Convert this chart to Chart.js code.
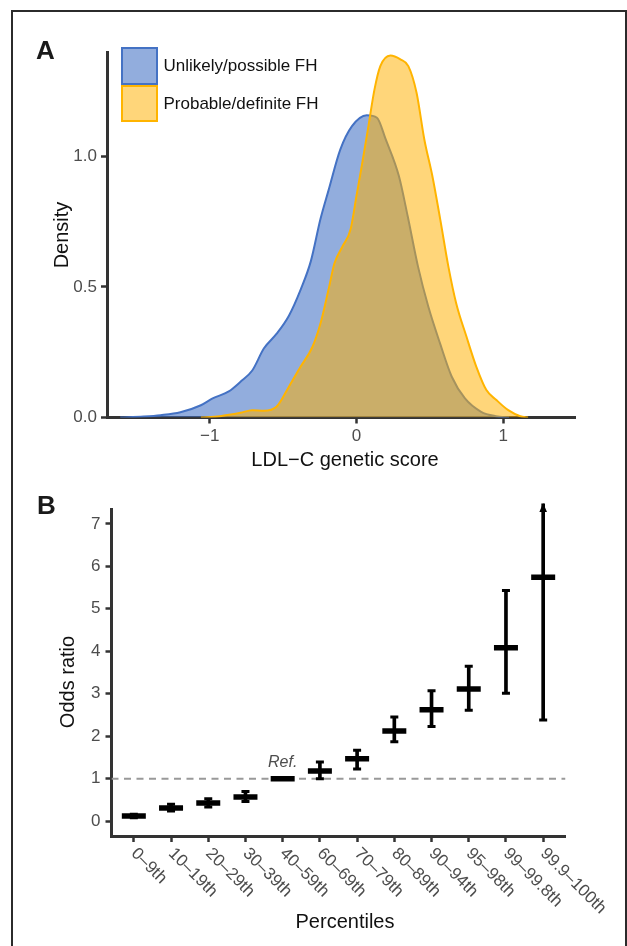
<!DOCTYPE html>
<html><head><meta charset="utf-8">
<script src="https://cdn.jsdelivr.net/npm/chart.js@4.4.1/dist/chart.umd.min.js"></script>
<style>
html,body{margin:0;padding:0;background:#fff;width:627px;height:946px;overflow:hidden;font-family:"Liberation Sans",Arial,sans-serif;}
#frame{position:absolute;left:11px;top:10px;width:616px;height:1000px;box-sizing:border-box;border:2px solid #2b2b2b;border-bottom:none;}
.abs{position:absolute;white-space:nowrap;}
canvas{position:absolute;left:0;}
.panel{font-weight:bold;font-size:26px;line-height:26px;color:#1a1a1a;}
.title{font-size:20px;line-height:24px;color:#111;transform:translate(-50%,-50%);}
.vt{transform:translate(-50%,-50%) rotate(-90deg);}
.row{display:flex;align-items:center;height:37.5px;}
.key{width:37px;height:37.5px;box-sizing:border-box;}
.lt{font-size:17px;line-height:37px;margin-left:6px;color:#111;}
</style></head>
<body>
<div id="frame"></div>
<canvas id="cA" width="627" height="480" style="top:0"></canvas>
<canvas id="cB" width="627" height="466" style="top:480px"></canvas>
<div class="abs panel" style="left:36px;top:37px">A</div>
<div class="abs panel" style="left:37px;top:492px">B</div>
<div class="abs" style="left:120.5px;top:47px">
  <div class="row"><div class="key" style="background:rgba(68,114,196,0.58);border:2px solid #4472C4"></div><div class="lt">Unlikely/possible FH</div></div>
  <div class="row"><div class="key" style="background:rgba(255,176,0,0.52);border:2px solid #FFB400"></div><div class="lt">Probable/definite FH</div></div>
</div>
<div class="abs title vt" style="left:61px;top:234.5px">Density</div>
<div class="abs title" style="left:345px;top:459px">LDL−C genetic score</div>
<div class="abs title vt" style="left:67px;top:682px">Odds ratio</div>
<div class="abs title" style="left:345px;top:921px">Percentiles</div>
<script>
// ---------- Panel A data (density curves) ----------
const unlikelyX = [-1.61,-1.45,-1.335,-1.2,-1.06,-0.98,-0.87,-0.79,-0.71,-0.63,-0.545,-0.46,-0.38,-0.31,-0.245,-0.19,-0.11,-0.03,0.07,0.14,0.2,0.29,0.35,0.42,0.49,0.57,0.65,0.74,0.85,0.95,1.04];
const unlikelyY = [0.0,0.004,0.009,0.02,0.047,0.073,0.1,0.137,0.18,0.265,0.32,0.39,0.49,0.60,0.76,0.87,1.026,1.116,1.158,1.148,1.065,0.924,0.77,0.578,0.425,0.284,0.156,0.073,0.022,0.005,0.0];
const probableX = [-1.06,-0.93,-0.79,-0.71,-0.63,-0.545,-0.46,-0.38,-0.30,-0.245,-0.19,-0.15,-0.095,-0.04,0.0,0.04,0.082,0.123,0.163,0.232,0.30,0.354,0.41,0.463,0.518,0.572,0.627,0.68,0.75,0.817,0.886,0.954,1.035,1.117,1.17];
const probableY = [0.0,0.005,0.018,0.028,0.026,0.041,0.118,0.195,0.27,0.36,0.49,0.59,0.655,0.72,0.847,0.975,1.116,1.256,1.346,1.387,1.372,1.346,1.244,1.065,0.924,0.757,0.578,0.438,0.31,0.195,0.105,0.067,0.028,0.005,0.0];
const densityXTicks = [-1, 0, 1];
const densityYTicks = [0, 0.5, 1.0];

// ---------- Panel B data (odds ratios with 95% CI) ----------
const percentileLabels = ['0–9th','10–19th','20–29th','30–39th','40–59th','60–69th','70–79th','80–89th','90–94th','95–98th','99–99.8th','99.9–100th'];
const oddsRatio = [0.12,0.31,0.43,0.57,1.00,1.18,1.47,2.12,2.62,3.11,4.08,5.74];
const ciLower   = [0.08,0.24,0.33,0.46,null,1.00,1.23,1.87,2.23,2.61,3.01,2.38];
const ciUpper   = [0.16,0.40,0.53,0.70,null,1.39,1.67,2.45,3.07,3.65,5.43,7.47];
const upperTruncated = [false,false,false,false,false,false,false,false,false,false,false,true];
const refIndex = 4;
const refValue = 1;
const orYTicks = [0,1,2,3,4,5,6,7];

Chart.defaults.font.family = '"Liberation Sans", Arial, sans-serif';
Chart.defaults.font.size = 17;
Chart.defaults.color = '#4d4d4d';

const pts = (xs, ys) => xs.map((x, i) => ({x, y: ys[i]}));
const fmtMinus = v => (v < 0 ? '\u2212' + Math.abs(v) : String(v));

// Panel A
new Chart(document.getElementById('cA'), {
  type: 'line',
  data: {
    datasets: [
      { label: 'Probable/definite FH', data: pts(probableX, probableY), fill: 'origin',
        backgroundColor: 'rgba(255,176,0,0.52)', borderColor: '#FFB400', borderWidth: 2,
        pointRadius: 0, cubicInterpolationMode: 'monotone' },
      { label: 'Unlikely/possible FH', data: pts(unlikelyX, unlikelyY), fill: 'origin',
        backgroundColor: 'rgba(68,114,196,0.58)', borderColor: '#4472C4', borderWidth: 2,
        pointRadius: 0, cubicInterpolationMode: 'monotone' }
    ]
  },
  options: {
    responsive: false, animation: false, devicePixelRatio: 1,
    layout: { padding: { top: 52, right: 52, left: 0, bottom: 0 } },
    plugins: { legend: { display: false }, tooltip: { enabled: false } },
    scales: {
      x: { type: 'linear', min: -1.70, max: 1.49,
        afterBuildTicks: s => { s.ticks = densityXTicks.map(v => ({value: v})); },
        afterFit: s => { s.height = 62.5; },
        ticks: { callback: v => fmtMinus(v), padding: 3, color: '#4d4d4d' },
        grid: { drawOnChartArea: false, tickLength: 6, tickColor: '#333', tickWidth: 2.5 },
        border: { color: '#333', width: 3 } },
      y: { type: 'linear', min: 0, max: 1.40,
        afterBuildTicks: s => { s.ticks = densityYTicks.map(v => ({value: v})); },
        afterFit: s => { s.width = 107; },
        ticks: { callback: v => v.toFixed(1), padding: 4, color: '#4d4d4d' },
        grid: { drawOnChartArea: false, tickLength: 6, tickColor: '#333', tickWidth: 2.5 },
        border: { color: '#333', width: 3 } }
    }
  }
});

// Panel B helpers (plugins read positions from the chart's scales)
const orDecor = {
  id: 'orDecor',
  afterDraw(chart) {
    const {ctx, scales: {x, y}} = chart;
    ctx.save();
    // arrowheads for truncated upper limits
    ctx.fillStyle = '#000';
    upperTruncated.forEach((t, i) => {
      if (!t) return;
      const px = x.getPixelForValue(i), py = y.getPixelForValue(ciUpper[i]);
      ctx.beginPath();
      ctx.moveTo(px, py - 1);
      ctx.lineTo(px + 3.8, py + 8);
      ctx.lineTo(px - 3.8, py + 8);
      ctx.closePath();
      ctx.fill();
    });
    // reference label
    ctx.font = 'italic 16px "Liberation Sans", Arial, sans-serif';
    ctx.fillStyle = '#4d4d4d';
    ctx.textAlign = 'center';
    ctx.textBaseline = 'middle';
    ctx.fillText('Ref.', x.getPixelForValue(refIndex), y.getPixelForValue(refValue + 0.37));
    // rotated category labels
    ctx.font = '17px "Liberation Sans", Arial, sans-serif';
    ctx.textAlign = 'left';
    percentileLabels.forEach((lab, i) => {
      ctx.save();
      ctx.translate(x.getPixelForValue(i), x.top + 15);
      ctx.rotate(Math.PI / 4);
      ctx.fillText(lab, 0, 0);
      ctx.restore();
    });
    ctx.restore();
  }
};

const idx = percentileLabels.map((_, i) => i);
const barData = idx.filter(i => ciLower[i] !== null).map(i => ({x: i, y: [ciLower[i], ciUpper[i]]}));
const capData = [];
idx.forEach(i => {
  if (ciLower[i] !== null) capData.push({x: i, y: ciLower[i]});
  if (ciUpper[i] !== null && !upperTruncated[i]) capData.push({x: i, y: ciUpper[i]});
});

new Chart(document.getElementById('cB'), {
  type: 'scatter',
  data: {
    datasets: [
      { label: 'Odds ratio', data: idx.map(i => ({x: i, y: oddsRatio[i]})),
        pointStyle: 'line', pointRadius: 12, borderWidth: 5.5, borderColor: '#000', backgroundColor: '#000' },
      { label: 'CI caps', data: capData,
        pointStyle: 'line', pointRadius: 4, borderWidth: 3, borderColor: '#000', backgroundColor: '#000' },
      { type: 'bar', label: 'CI', data: barData, barThickness: 3, backgroundColor: '#000',
        borderWidth: 0, clip: false, grouped: false },
      { type: 'line', label: 'Reference', data: [{x: -0.6, y: refValue}, {x: 11.6, y: refValue}],
        borderColor: '#999', borderWidth: 2, borderDash: [7, 5.5], pointRadius: 0, showLine: true, fill: false }
    ]
  },
  options: {
    responsive: false, animation: false, devicePixelRatio: 1,
    layout: { padding: { top: 29, right: 61.5, left: 0, bottom: 0 } },
    plugins: { legend: { display: false }, tooltip: { enabled: false } },
    scales: {
      x: { type: 'linear', min: -0.6, max: 11.6, offset: false,
        afterBuildTicks: s => { s.ticks = idx.map(v => ({value: v})); },
        afterFit: s => { s.height = 110; },
        ticks: { display: false },
        grid: { drawOnChartArea: false, offset: false, tickLength: 6, tickColor: '#333', tickWidth: 2.5 },
        border: { color: '#333', width: 3 } },
      y: { type: 'linear', min: -0.35, max: 7.35,
        afterBuildTicks: s => { s.ticks = orYTicks.map(v => ({value: v})); },
        afterFit: s => { s.width = 111.5; },
        ticks: { callback: v => String(v), padding: 5, color: '#4d4d4d' },
        grid: { drawOnChartArea: false, tickLength: 6, tickColor: '#333', tickWidth: 2.5 },
        border: { color: '#333', width: 3 } }
    }
  },
  plugins: [orDecor]
});
</script>
</body></html>
